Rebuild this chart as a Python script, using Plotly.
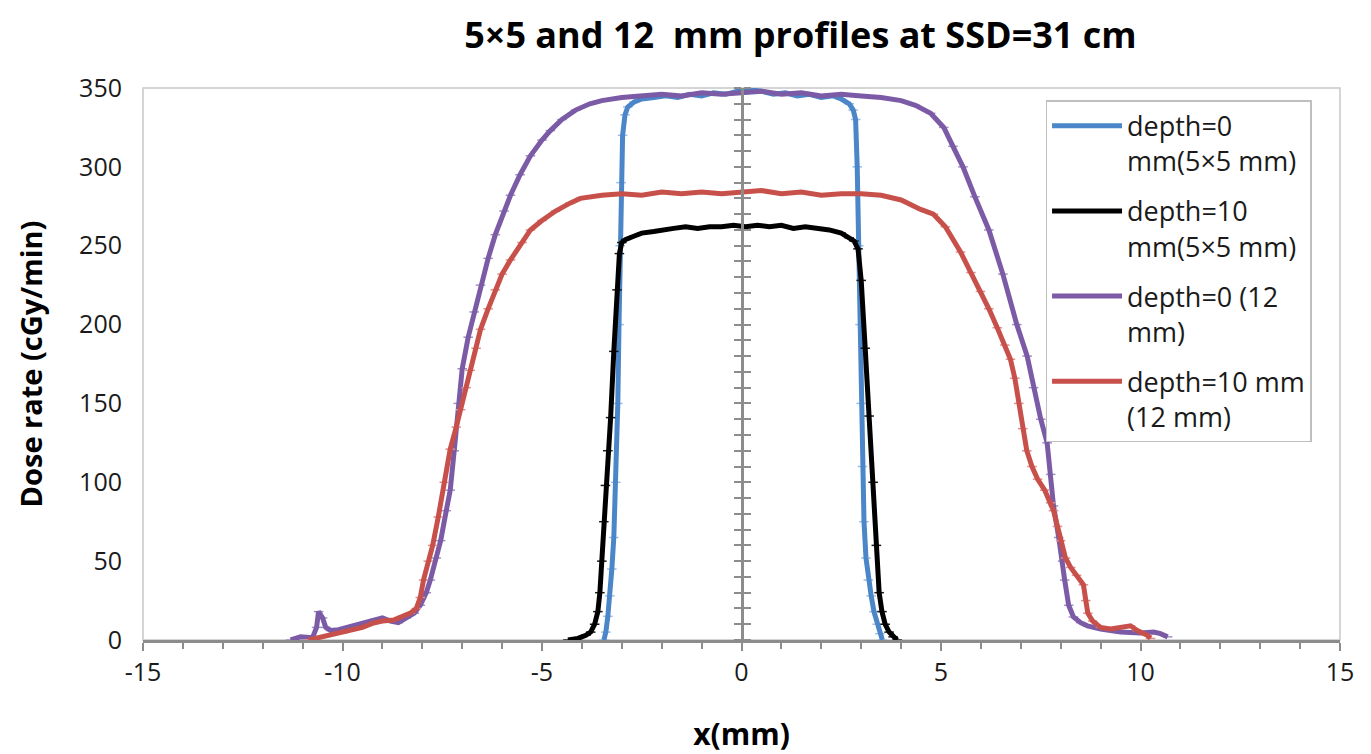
import plotly.graph_objects as go

# ---------------- data ----------------
blue_x = [-3.45, -3.40, -3.35, -3.30, -3.25, -3.20, -3.15, -3.10, -3.07, -3.04, -3.02, -2.98, -2.92, -2.85,
          -2.7, -2.5, -2.2, -1.9, -1.6, -1.3, -1.0, -0.7, -0.4, -0.1, 0.2, 0.5, 0.8, 1.1, 1.4, 1.7, 2.0,
          2.3, 2.5, 2.7, 2.8, 2.86, 2.9, 2.94, 2.97, 3.0, 3.03, 3.07, 3.12, 3.18, 3.25, 3.32, 3.4, 3.47, 3.53]
blue_y = [0, 5, 15, 28, 45, 65, 100, 150, 200, 250, 290, 320, 333, 338,
          341, 343, 344, 345, 344, 346, 345, 347, 346, 348, 349, 348, 346, 347, 345, 346, 344,
          345, 343, 340, 336, 330, 300, 250, 200, 150, 110, 75, 52, 38, 28, 18, 10, 4, 0]

black_x = [-4.35, -4.1, -3.9, -3.78, -3.68, -3.6, -3.55, -3.5, -3.45, -3.41, -3.35, -3.28, -3.2, -3.12,
           -3.06, -3.0, -2.9, -2.7, -2.5, -2.2, -2.0, -1.7, -1.4, -1.1, -0.8, -0.5, -0.2, 0.1, 0.4, 0.7,
           1.0, 1.3, 1.6, 1.9, 2.2, 2.5, 2.7, 2.82, 2.92, 3.0, 3.1, 3.2, 3.3, 3.38, 3.45, 3.52, 3.6, 3.7,
           3.8, 3.9]
black_y = [0, 1, 3, 5, 10, 18, 30, 50, 75, 98, 120, 141, 183, 222,
           245, 252, 254, 256, 258, 259, 260, 261, 262, 261, 262, 262, 263, 262, 263, 262,
           263, 261, 262, 261, 260, 258, 255, 253, 248, 228, 185, 142, 100, 60, 30, 18, 10, 5,
           2, 0]

purple_x = [-11.3, -11.05, -10.75, -10.65, -10.6, -10.5, -10.42, -10.3, -10.1, -9.8, -9.5, -9.2, -9.0,
            -8.8, -8.6, -8.4, -8.2, -8.05, -7.9, -7.8, -7.65, -7.54, -7.4, -7.3, -7.2, -7.1, -7.0,
            -6.85, -6.7, -6.54, -6.35, -6.17, -5.95, -5.79, -5.55, -5.29, -5.0, -4.79, -4.5, -4.16,
            -3.8, -3.5, -3.0, -2.5, -2.0, -1.5, -1.0, -0.5, 0.0, 0.5, 1.0, 1.5, 2.0, 2.5, 3.0, 3.5,
            4.0, 4.36, 4.74, 5.07, 5.3, 5.55, 5.85, 6.2, 6.55, 6.9, 7.16, 7.32, 7.5, 7.66, 7.75, 7.82,
            7.95, 8.05, 8.1, 8.2, 8.32, 8.5, 8.67, 9.0, 9.5, 10.0, 10.33, 10.5, 10.68]
purple_y = [0, 2, 1.5, 8, 18, 14, 8, 6, 6.5, 8.5, 10.5, 13, 14,
            12, 11, 14, 17, 22, 30, 38, 52, 63, 82, 95, 120, 150, 172,
            192, 208, 225, 242, 257, 272, 282, 295, 307, 317, 323, 330, 336,
            340, 342, 344, 345, 346, 345, 347, 346, 347, 348, 346, 347, 345, 346, 345, 344,
            342, 339, 334, 325, 313, 300, 281, 260, 232, 200, 180, 160, 140, 125, 105, 85,
            65, 50, 38, 22, 14.6, 11, 9, 7, 5, 4.5, 5, 4, 2]

red_x = [-10.85, -10.6, -10.3, -10.0, -9.72, -9.5, -9.22, -9.0, -8.72, -8.5, -8.3, -8.15, -8.05, -7.97,
         -7.85, -7.74, -7.6, -7.45, -7.3, -7.15, -7.04, -6.9, -6.8, -6.65, -6.54, -6.35, -6.17, -6.0,
         -5.79, -5.5, -5.29, -5.0, -4.66, -4.3, -4.04, -3.5, -3.0, -2.5, -2.0, -1.5, -1.0, -0.5, 0.0,
         0.5, 1.0, 1.5, 2.0, 2.5, 3.0, 3.5, 4.0, 4.49, 4.81, 5.11, 5.49, 5.75, 5.99, 6.2, 6.41, 6.6,
         6.74, 6.85, 6.95, 7.05, 7.15, 7.28, 7.42, 7.6, 7.75, 7.82, 7.92, 8.0, 8.12, 8.25, 8.4, 8.57,
         8.63, 8.68, 8.8, 9.0, 9.25, 9.5, 9.75, 9.92, 10.17, 10.25]
red_y = [0, 1.5, 3, 4.5, 6.3, 8, 10.8, 12, 12.7, 15, 17, 20, 27, 38,
         50, 60, 78, 100, 121, 135, 146, 160, 171, 185, 197, 210, 222, 232,
         241, 252, 260, 266, 272, 277, 280, 282, 283, 282, 284, 283, 284, 283, 284,
         285, 283, 284, 282, 283, 283, 282, 279, 273, 270, 262, 246, 233, 221, 210, 198, 187,
         178, 166, 150, 134, 120, 110, 102, 95, 87, 82, 72, 63, 52, 46, 41, 35,
         25, 17, 12, 8, 7, 8, 9, 6, 3, 1]

series_names = ["depth=0<br>mm(5×5 mm)", "depth=10<br>mm(5×5 mm)",
                "depth=0 (12<br>mm)", "depth=10 mm<br>(12 mm)"]
series_colors = ["#4A86C8", "#000000", "#7B5BA6", "#C8504B"]
bar_colors = ["#9DBDE3", "#1A1A1A", "#A48FC4", "#E08F8C"]

x_ticks = [-15, -10, -5, 0, 5, 10, 15]
x_tick_text = ["-15", "-10", "-5", "0", "5", "10", "15"]
y_ticks = [0, 50, 100, 150, 200, 250, 300, 350]

FONT = "Open Sans"
GRAY = "#8C8C8C"

fig = go.Figure()
for i, (xs, ys) in enumerate([(blue_x, blue_y), (black_x, black_y), (purple_x, purple_y), (red_x, red_y)]):
    fig.add_trace(go.Scatter(
        x=xs, y=ys, mode="lines", name=series_names[i], legendgroup=f"g{i}",
        line=dict(color=series_colors[i], width=5),
        error_x=dict(type="constant", value=0.12, thickness=1.5, width=0, color=bar_colors[i]),
    ))

# dummy traces to register the overlaying axes drawn at x = 0
fig.add_trace(go.Scatter(x=[None], y=[None], yaxis="y2", showlegend=False, hoverinfo="skip"))
fig.add_trace(go.Scatter(x=[None], y=[None], yaxis="y3", showlegend=False, hoverinfo="skip"))

fig.add_shape(type="rect", xref="paper", yref="paper", x0=0, x1=1, y0=0, y1=1,
              line=dict(color="#C8C8C8", width=1.5), layer="below")

fig.update_layout(
    width=1371, height=754,
    margin=dict(l=135, r=39, t=80, b=122, autoexpand=False),
    paper_bgcolor="white", plot_bgcolor="white",
    font=dict(family=FONT, color="#1a1a1a"),
    title=dict(text="<b>5×5 and 12\u00a0 mm profiles at SSD=31 cm</b>",
               x=0.578, xanchor="center", y=0.963, yanchor="middle",
               font=dict(family=FONT, size=36, color="#000000")),
    xaxis=dict(range=[-15, 15], tickvals=x_ticks, ticktext=x_tick_text, showgrid=False, zeroline=False,
               showline=True, linecolor=GRAY, linewidth=3,
               ticks="outside", ticklen=8, tickwidth=2, tickcolor=GRAY,
               minor=dict(dtick=1, ticks="outside", ticklen=6, tickwidth=2, tickcolor=GRAY),
               tickfont=dict(size=25, color="#1a1a1a"),
               title=dict(text="<b>x(mm)</b>", font=dict(size=30, color="#000000"), standoff=37)),
    yaxis=dict(range=[0, 350], tickvals=y_ticks, showgrid=False, zeroline=False, showline=False,
               ticks="", ticklabelstandoff=20,
               tickfont=dict(size=25, color="#1a1a1a"),
               title=dict(text="<b>Dose rate (cGy/min)</b>", font=dict(size=29, color="#000000"), standoff=27)),
    yaxis2=dict(range=[0, 350], overlaying="y", anchor="free", position=0.5, side="left",
                showgrid=False, zeroline=False, showline=True, linecolor=GRAY, linewidth=3,
                ticks="outside", ticklen=7, tickwidth=2, tickcolor=GRAY, dtick=10,
                showticklabels=False),
    yaxis3=dict(range=[0, 350], overlaying="y", anchor="free", position=0.5, side="right",
                showgrid=False, zeroline=False, showline=True, linecolor=GRAY, linewidth=3,
                ticks="outside", ticklen=7, tickwidth=2, tickcolor=GRAY, dtick=10,
                showticklabels=False),
    legend=dict(x=0.754, y=0.978, xanchor="left", yanchor="top",
                bordercolor="#BFBFBF", borderwidth=1.5, bgcolor="white",
                font=dict(family=FONT, size=27, color="#1a1a1a"),
                tracegroupgap=12, valign="top", itemwidth=70),
    showlegend=True,
)

fig.write_html("out.html")
